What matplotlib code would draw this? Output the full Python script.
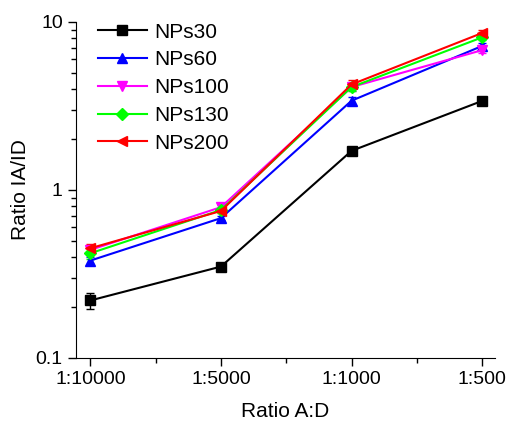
import matplotlib.pyplot as plt
import numpy as np
from matplotlib.ticker import FixedLocator, NullFormatter, LogLocator

plt.rcParams['font.family'] = ['Liberation Sans', 'DejaVu Sans']

ratios = ["1:10000", "1:5000", "1:1000", "1:500"]
nps30 = [0.22, 0.35, 1.71, 3.39]
nps60 = [0.38, 0.68, 3.4, 7.2]
nps100 = [0.44, 0.79, 4.1, 6.8]
nps130 = [0.42, 0.76, 4.1, 8.1]
nps200 = [0.45, 0.75, 4.25, 8.6]
err30 = [0.025, 0.01, 0.05, 0.08]
err60 = [0.02, 0.02, 0.2, 0.3]
err100 = [0.03, 0.02, 0.2, 0.3]
err130 = [0.03, 0.02, 0.2, 0.3]
err200 = [0.03, 0.02, 0.25, 0.3]

series = [
    ("NPs30", nps30, err30, "black", "s"),
    ("NPs60", nps60, err60, "#0000ff", "^"),
    ("NPs100", nps100, err100, "#ff00ff", "v"),
    ("NPs130", nps130, err130, "#00ff00", "D"),
    ("NPs200", nps200, err200, "#ff0000", "<"),
]

fig = plt.figure(figsize=(5.1, 4.23), dpi=100)
ax = fig.add_axes([0.149, 0.1537, 0.822, 0.7943])
x = np.arange(len(ratios))
handles = []
labels = []
for name, vals, err, col, mk in series:
    c = ax.errorbar(x, vals, yerr=err, color=col, marker=mk, markersize=7 if mk != "D" else 6,
                    lw=1.5, capsize=3, elinewidth=1)
    handles.append(c[0])
    labels.append(name)

ax.set_yscale("log")
ax.set_ylim(0.1, 10)
ax.set_xlim(-0.11, 3.1)
ax.set_xticks(x)
ax.set_xticklabels(ratios)
ax.xaxis.set_minor_locator(FixedLocator([0.5, 1.5, 2.5]))
ax.yaxis.set_major_locator(FixedLocator([0.1, 1, 10]))
ax.set_yticklabels(["0.1", "1", "10"])
ax.yaxis.set_minor_locator(LogLocator(subs=np.arange(2, 10)))
ax.yaxis.set_minor_formatter(NullFormatter())
ax.tick_params(which="major", length=6, width=1, labelsize=14)
ax.tick_params(which="minor", length=3.5, width=1)
for s in ["top", "right"]:
    ax.spines[s].set_visible(False)
ax.set_xlabel("Ratio A:D", fontsize=15, labelpad=10)
ax.set_ylabel("Ratio IA/ID", fontsize=15)
ax.legend(handles, labels, loc="upper left", frameon=False, fontsize=15, handlelength=2.35,
          handletextpad=0.35, labelspacing=0.42, borderpad=0, borderaxespad=0.0,
          bbox_to_anchor=(0.052, 0.998))
fig.savefig("out.png", dpi=100)
